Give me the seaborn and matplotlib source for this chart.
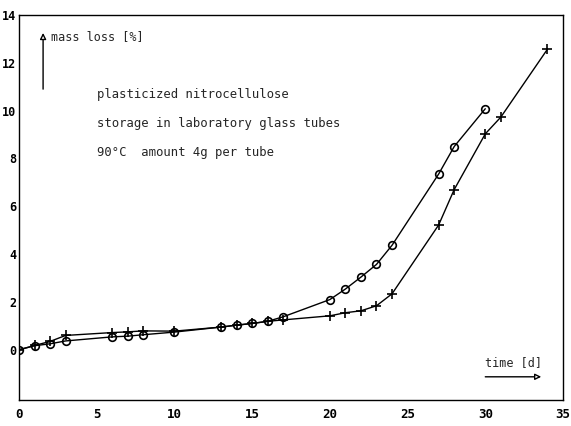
import matplotlib
matplotlib.use("Agg")
import matplotlib.pyplot as plt
import seaborn as sns
import pandas as pd

# data
days_circle = [0, 1, 2, 3, 6, 7, 8, 10, 13, 14, 15, 16, 17, 20, 21, 22, 23, 24, 27, 28, 30]
loss_circle = [0, 0.17, 0.25, 0.37, 0.54, 0.57, 0.63, 0.74, 0.95, 1.03, 1.1, 1.19, 1.38,
               2.1, 2.54, 3.04, 3.57, 4.37, 7.35, 8.5, 10.08]
days_plus = [0, 1, 2, 3, 6, 7, 8, 10, 13, 14, 15, 16, 17, 20, 21, 22, 23, 24, 27, 28, 30, 31, 34]
loss_plus = [0, 0.18, 0.35, 0.6, 0.72, 0.75, 0.79, 0.78, 0.95, 1.03, 1.1, 1.19, 1.25,
             1.42, 1.55, 1.63, 1.84, 2.34, 5.22, 6.7, 9.03, 9.73, 12.57]
x_ticks = [0, 5, 10, 15, 20, 25, 30, 35]
y_ticks = [0, 2, 4, 6, 8, 10, 12, 14]
note_lines = ["plasticized nitrocellulose",
              "storage in laboratory glass tubes",
              "90°C  amount 4g per tube"]
y_label = "mass loss [%]"
x_label = "time [d]"

sns.set_style("white")
plt.rcParams["font.family"] = ["DejaVu Sans Mono", "DejaVu Sans"]

fig = plt.figure(figsize=(5.71, 4.26), dpi=100)
ax = fig.add_axes([19 / 571, 26 / 426, 544 / 571, 385 / 426])

df_c = pd.DataFrame({"t": days_circle, "m": loss_circle})
df_p = pd.DataFrame({"t": days_plus, "m": loss_plus})

sns.lineplot(data=df_c, x="t", y="m", ax=ax, color="black", lw=1.0,
             marker="o", markersize=5.5, markerfacecolor="none",
             markeredgecolor="black", markeredgewidth=1.2)
sns.lineplot(data=df_p, x="t", y="m", ax=ax, color="black", lw=1.0,
             marker="+", markersize=7, markeredgecolor="black",
             markeredgewidth=1.2)

ax.set_xlim(0, 35)
ax.set_ylim(-2.1, 14)
ax.set_xticks(x_ticks)
ax.set_yticks(y_ticks)
ax.set_xticklabels([str(v) for v in x_ticks])
ax.set_yticklabels([str(v) for v in y_ticks])
ax.set_xlabel("")
ax.set_ylabel("")
ax.tick_params(axis="x", direction="in", length=7, width=1, pad=6,
               labelsize=9, colors="black")
ax.tick_params(axis="y", direction="in", length=7, width=1, pad=2,
               labelsize=8.5, colors="black")
for lab in ax.get_xticklabels() + ax.get_yticklabels():
    lab.set_fontweight("bold")
for s in ax.spines.values():
    s.set_color("black")
    s.set_linewidth(1.0)

arrow_kw = dict(arrowstyle="-|>", ec="black", fc="white", lw=1.0,
                mutation_scale=9, shrinkA=0, shrinkB=0)

# y axis label with arrow
ax.annotate("", xy=(1.55, 13.25), xytext=(1.55, 10.9), arrowprops=arrow_kw)
ax.text(2.05, 13.1, y_label, fontsize=8.5, va="center", ha="left")

for i, line in enumerate(note_lines):
    ax.text(5.0, 10.67 - i * 1.2, line, fontsize=8.8, va="center", ha="left")

# x axis label with arrow
ax.text(30.0, -0.55, x_label, fontsize=8.5, va="center", ha="left")
ax.annotate("", xy=(33.6, -1.13), xytext=(30.0, -1.13), arrowprops=arrow_kw)

fig.savefig("out.png", dpi=100)
